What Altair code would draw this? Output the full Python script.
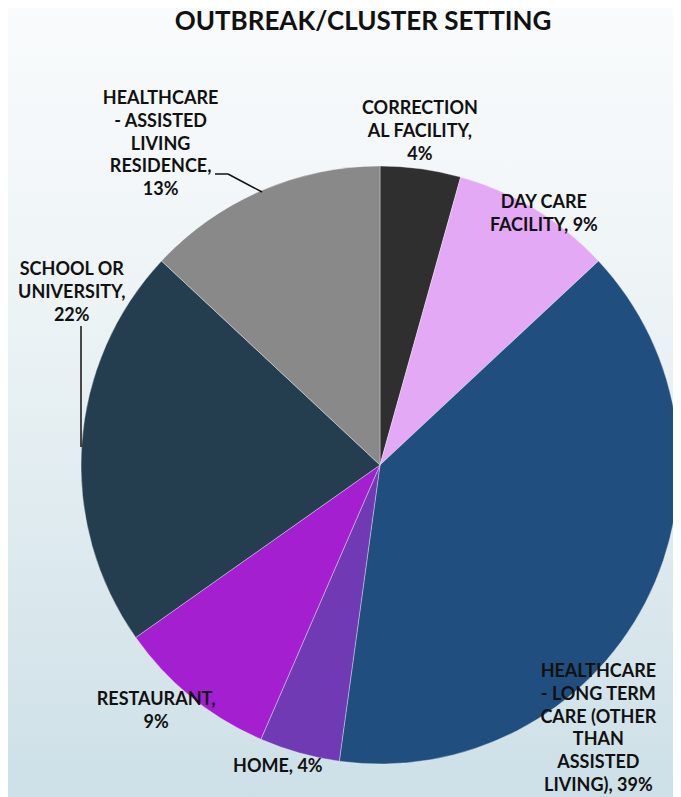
import math
import altair as alt
import pandas as pd

# ---- data ----
categories = [
    "CORRECTIONAL FACILITY",
    "DAY CARE FACILITY",
    "HEALTHCARE - LONG TERM CARE (OTHER THAN ASSISTED LIVING)",
    "HOME",
    "RESTAURANT",
    "SCHOOL OR UNIVERSITY",
    "HEALTHCARE - ASSISTED LIVING RESIDENCE",
]
counts = [1, 2, 9, 1, 2, 5, 3]
label_texts = [
    "CORRECTION\nAL FACILITY,\n4%",
    "DAY CARE\nFACILITY, 9%",
    "HEALTHCARE\n- LONG TERM\nCARE (OTHER\nTHAN\nASSISTED\nLIVING), 39%",
    "HOME, 4%",
    "RESTAURANT,\n9%",
    "SCHOOL OR\nUNIVERSITY,\n22%",
    "HEALTHCARE\n- ASSISTED\nLIVING\nRESIDENCE,\n13%",
]
colors = ["#2f2f2f", "#e3a9f5", "#1f4e7f", "#6f3ab3", "#a31fcf", "#243e50", "#898989"]
title_text = "OUTBREAK/CLUSTER SETTING"

df = pd.DataFrame({
    "idx": list(range(len(categories))),
    "category": categories,
    "value": counts,
    "label": label_texts,
})

W, H = 665, 789
CX, CY, R = 372, 457, 299
FONT = "Lato"
LH = 22.7

bg = alt.Chart(pd.DataFrame({"a": [0]})).mark_rect(
    color=alt.LinearGradient(
        gradient="linear",
        stops=[alt.GradientStop(color="#f9fbfc", offset=0),
               alt.GradientStop(color="#eef4f6", offset=0.35),
               alt.GradientStop(color="#cde0e7", offset=1)],
        x1=0, x2=0, y1=0, y2=1,
    )
).encode(x=alt.value(0), x2=alt.value(W), y=alt.value(0), y2=alt.value(H))

base = alt.Chart(df)

arcs = base.mark_arc(outerRadius=R, stroke="#ffffff", strokeWidth=0.6, strokeOpacity=0.6).encode(
    theta=alt.Theta("value:Q", stack=True),
    color=alt.Color("category:N", scale=alt.Scale(domain=categories, range=colors), legend=None),
    order=alt.Order("idx:Q"),
    x=alt.value(CX),
    y=alt.value(CY),
)

# label placement: radius along slice mid-angle plus pixel nudges (block centre)
label_pos = {
    categories[0]: (337, -6, 1),
    categories[1]: (300, 8, 6),
    categories[2]: (300, -48, 126),
    categories[3]: (312, -18, 2),
    categories[4]: (320, -22, -2),
    categories[5]: (320, 11, -150),
    categories[6]: (370, -72, 19),
}

mid_base = base.transform_window(
    cum="sum(value)", sort=[alt.SortField("idx")], frame=[None, 0]
).transform_joinaggregate(
    total="sum(value)"
).transform_calculate(
    mid="(datum.cum - datum.value / 2) / datum.total"
)

label_layers = []
for cat, txt in zip(categories, label_texts):
    rad, ddx, ddy = label_pos[cat]
    nlines = txt.count("\n") + 1
    label_layers.append(
        mid_base.transform_filter(alt.datum.category == cat).mark_text(
            radius=rad, dx=ddx, dy=ddy - (nlines - 1) * LH / 2, font=FONT, fontSize=18,
            fontWeight="bold", color="#111111", align="center", baseline="middle",
            lineBreak="\n", lineHeight=LH,
        ).encode(
            theta=alt.Theta("mid:Q", scale=alt.Scale(domain=[0, 1], range=[0, 2 * math.pi]), stack=None),
            text="label:N",
            x=alt.value(CX),
            y=alt.value(CY),
        )
    )
labels = alt.layer(*label_layers)

one = alt.Chart(pd.DataFrame({"a": [0]}))
lead1 = one.mark_rule(color="#111111", strokeWidth=1.5).encode(
    x=alt.value(73), x2=alt.value(73), y=alt.value(318), y2=alt.value(439))
lead2 = one.mark_rule(color="#111111", strokeWidth=1.5).encode(
    x=alt.value(207), x2=alt.value(220), y=alt.value(166), y2=alt.value(166))
lead3 = one.mark_rule(color="#111111", strokeWidth=1.5).encode(
    x=alt.value(220), x2=alt.value(254), y=alt.value(166), y2=alt.value(184))

title = one.mark_text(
    font=FONT, fontSize=26, fontWeight="bold", color="#111111", align="center", baseline="middle"
).encode(x=alt.value(355), y=alt.value(14), text=alt.value(title_text))

chart = alt.layer(bg, arcs, lead1, lead2, lead3, labels, title).resolve_scale(
    theta="independent"
).properties(
    width=W, height=H, autosize=alt.AutoSizeParams(type="none"), padding=0
).configure_view(stroke=None)

chart.save("out.html", embed_options={"renderer": "svg", "actions": False})
